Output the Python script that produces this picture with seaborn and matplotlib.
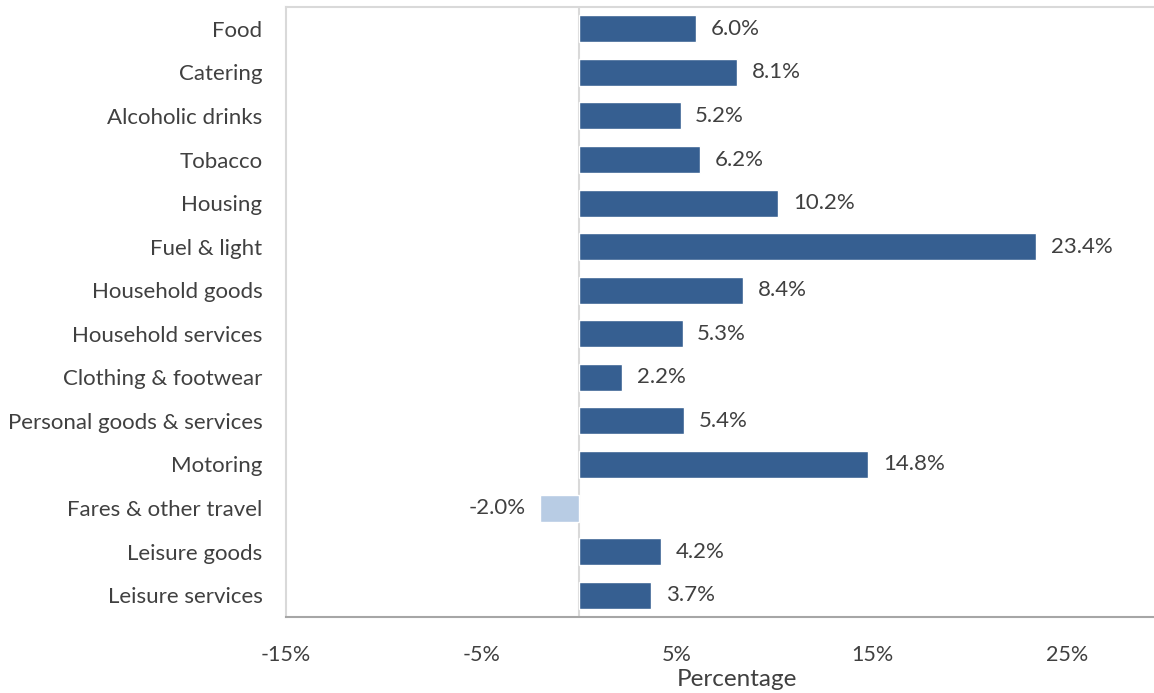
import matplotlib
matplotlib.use("Agg")
import matplotlib.pyplot as plt
import seaborn as sns
import pandas as pd

categories = ["Food", "Catering", "Alcoholic drinks", "Tobacco", "Housing", "Fuel & light",
              "Household goods", "Household services", "Clothing & footwear",
              "Personal goods & services", "Motoring", "Fares & other travel",
              "Leisure goods", "Leisure services"]
values = [6.0, 8.1, 5.2, 6.2, 10.2, 23.4, 8.4, 5.3, 2.2, 5.4, 14.8, -2.0, 4.2, 3.7]
xticks = [-15, -5, 5, 15, 25]

df = pd.DataFrame({"cat": categories, "val": values})
df["sign"] = ["neg" if v < 0 else "pos" for v in values]

sns.set_theme(style="white")
plt.rcParams["font.family"] = ["Lato", "DejaVu Sans"]
text_col = "#404040"

fig = plt.figure(figsize=(11.54, 6.93), dpi=100)
ax = fig.add_axes([286/1154, (693-617)/693, 1 - 286/1154, (617-7)/693])

sns.barplot(data=df, x="val", y="cat", hue="sign", orient="h",
            palette={"pos": "#365F91", "neg": "#B8CCE4"}, width=0.62,
            legend=False, dodge=False, ax=ax, saturation=1)

ax.set_xlim(-15, (1154 - 578.5) / 19.55)
ax.set_ylim(13.5, -0.5)
ax.axvline(0, color="#d9d9d9", lw=1.5, zorder=0)

for i, v in enumerate(values):
    if v >= 0:
        ax.text(v + 0.75, i, f"{v:.1f}%", va="center", ha="left", fontsize=16, color=text_col)
    else:
        ax.text(v - 0.75, i, f"{v:.1f}%", va="center", ha="right", fontsize=16, color=text_col)

ax.set_xticks(xticks)
ax.set_xticklabels([f"{t}%" for t in xticks])
ax.tick_params(axis="x", labelsize=15.5, colors=text_col, length=0, pad=20)
ax.tick_params(axis="y", labelsize=16, colors=text_col, length=0, pad=17)
ax.set_ylabel("")
ax.set_xlabel("Percentage", fontsize=17.5, color=text_col)
ax.xaxis.set_label_coords((737 - 286) / (1154 - 286), -0.085)

for s in ["top", "left"]:
    ax.spines[s].set_color("#d9d9d9")
    ax.spines[s].set_linewidth(1.5)
ax.spines["bottom"].set_color("#a6a6a6")
ax.spines["bottom"].set_linewidth(1.5)
ax.spines["right"].set_visible(False)

fig.savefig("out.png", dpi=100)
